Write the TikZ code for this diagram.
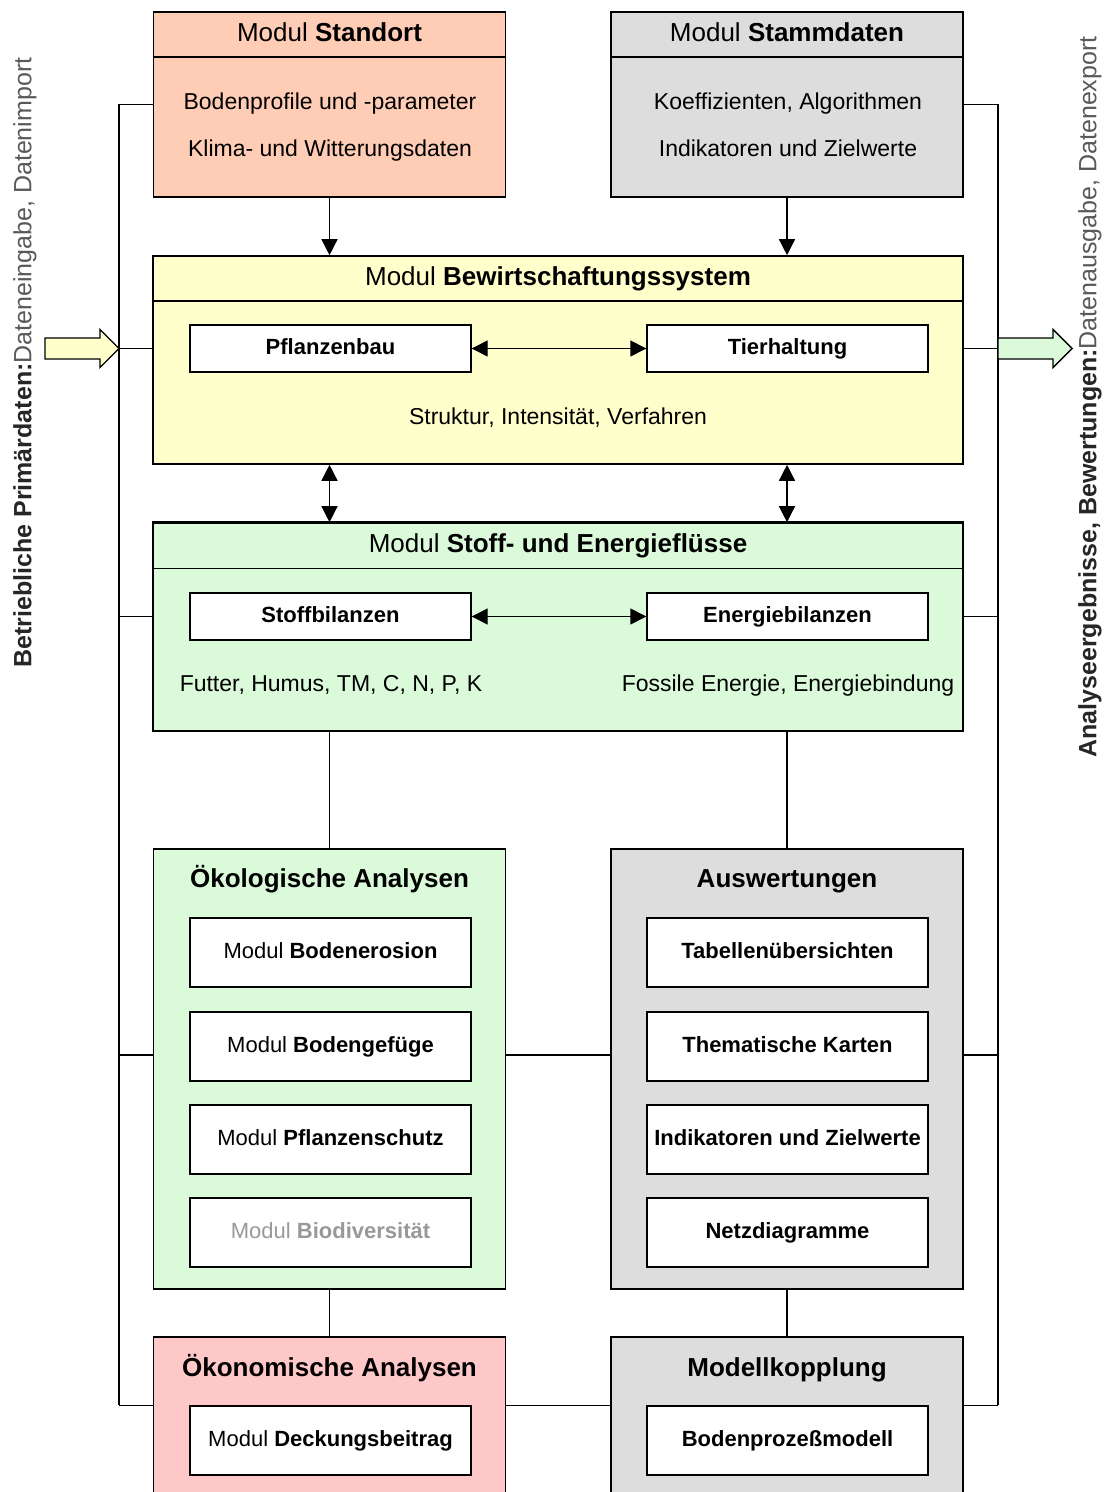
\documentclass[tikz,border=0pt]{standalone}
\usepackage{fontspec}
\setmainfont{Liberation Sans}
\usetikzlibrary{arrows.meta,calc,positioning}
\definecolor{lachs}{RGB}{255,204,181}
\definecolor{grau}{RGB}{221,221,221}
\definecolor{gelb}{RGB}{255,255,204}
\definecolor{gruen}{RGB}{218,250,218}
\definecolor{rosa}{RGB}{255,200,200}
\newcommand{\titel}{\fontsize{13}{15}\selectfont}
\newcommand{\txt}{\fontsize{11.5}{13}\selectfont}
\newcommand{\klein}{\fontsize{11}{13}\selectfont}

\begin{document}
\begin{tikzpicture}[x=0.5pt,y=-0.5pt,
  modul/.style={draw, line width=0.8pt, inner sep=0pt},
  kasten/.style={modul, minimum width=176pt, minimum height=92.5pt},
  breit/.style={modul, minimum width=405pt, minimum height=104pt},
  hoch/.style={modul, minimum width=176pt, minimum height=220pt},
  unten/.style={modul, minimum width=176pt, minimum height=83pt},
  kopf/.style={font=\titel, text height=9.5pt, text depth=2.8pt},
  zeile/.style={font=\txt, text height=8.5pt, text depth=2.5pt},
  teil/.style={draw, fill=white, line width=0.7pt, minimum width=140.5pt, minimum height=23.5pt, inner sep=0pt, font=\klein\bfseries, text height=8pt, text depth=2.4pt},
  block/.style={teil, minimum height=34.5pt},
  spitze/.tip={Triangle[length=8pt,width=8pt]},
  pfeil/.style={-spitze, line width=0.7pt},
  doppel/.style={spitze-spitze, line width=0.7pt},
  linie/.style={line width=0.7pt},
  seite/.style={rotate=90, anchor=west, inner sep=0pt, font=\fontsize{12.5}{14}\selectfont, text=black!85}
]
\useasboundingbox (0,0) rectangle (1109,1492);
\clip (0,0) rectangle (1109,1492);

% obere Module
\node[kasten, fill=lachs] (standort) at (329.5,104.5) {};
\node[kasten, fill=grau] (stamm) at (787,104.5) {};
\draw[linie] ($(standort.north west)+(0,46)$) -- ($(standort.north east)+(0,46)$);
\draw[linie] ($(stamm.north west)+(0,46)$) -- ($(stamm.north east)+(0,46)$);
\node[kopf] (standorttitel) at (329.5,35) {Modul \textbf{Standort}};
\node[kopf] (stammtitel) at (787,35) {Modul \textbf{Stammdaten}};
\node[zeile] (boden) at (330,104) {Bodenprofile und -parameter};
\node[zeile] (klima) at (330,151) {Klima- und Witterungsdaten};
\node[zeile] (koeff) at (788,104) {Koeffizienten, Algorithmen};
\node[zeile] (indik) at (788,151) {Indikatoren und Zielwerte};

% Bewirtschaftungssystem
\node[breit, fill=gelb] (bewirt) at (558,360) {};
\draw[linie] ($(bewirt.north west)+(0,46)$) -- ($(bewirt.north east)+(0,46)$);
\node[kopf] (bewirttitel) at (558,279) {Modul \textbf{Bewirtschaftungssystem}};
\node[teil] (pflanz) at (330.5,348.5) {Pflanzenbau};
\node[teil] (tier) at (787.5,348.5) {Tierhaltung};
\node[zeile] (struktur) at (558,418) {Struktur, Intensität, Verfahren};
\draw[doppel] (pflanz.east) -- (tier.west);

% Stoff- und Energieflüsse
\node[breit, fill=gruen] (stoff) at (558,627) {};
\draw[linie] ($(stoff.north west)+(0,46)$) -- ($(stoff.north east)+(0,46)$);
\draw[line width=1.4pt] (stoff.north west) -- (stoff.north east);
\node[kopf] (stofftitel) at (558,546) {Modul \textbf{Stoff- und Energieflüsse}};
\node[teil] (stoffbil) at (330.5,616.5) {Stoffbilanzen};
\node[teil] (energie) at (787.5,616.5) {Energiebilanzen};
\node[zeile] (futter) at (331,685) {Futter, Humus, TM, C, N, P, K};
\node[zeile] (fossil) at (788,685) {Fossile Energie, Energiebindung};
\draw[doppel] (stoffbil.east) -- (energie.west);

% Analysen
\node[hoch, fill=gruen] (oeko) at (329.5,1069) {};
\node[hoch, fill=grau] (ausw) at (787,1069) {};
\node[kopf, font=\titel\bfseries] (oekotitel) at (329.5,881) {Ökologische Analysen};
\node[kopf, font=\titel\bfseries] (auswtitel) at (787,881) {Auswertungen};
\node[block] (erosion) at (330.5,952.5) {\mdseries Modul \bfseries Bodenerosion};
\node[block] (gefuege) at (330.5,1046.5) {\mdseries Modul \bfseries Bodengefüge};
\node[block] (schutz) at (330.5,1139.5) {\mdseries Modul \bfseries Pflanzenschutz};
\node[block, text=black!40] (bio) at (330.5,1232.5) {\mdseries Modul \bfseries Biodiversität};
\node[block] (tabellen) at (787.5,952.5) {Tabellenübersichten};
\node[block] (karten) at (787.5,1046.5) {Thematische Karten};
\node[block] (ziel) at (787.5,1139.5) {Indikatoren und Zielwerte};
\node[block] (netz) at (787.5,1232.5) {Netzdiagramme};

% untere Module
\node[unten, fill=rosa] (oekon) at (329.5,1420) {};
\node[unten, fill=grau] (modell) at (787,1420) {};
\node[kopf, font=\titel\bfseries] (oekontitel) at (329.5,1370) {Ökonomische Analysen};
\node[kopf, font=\titel\bfseries] (modelltitel) at (787,1370) {Modellkopplung};
\node[block] (deck) at (330.5,1440.5) {\mdseries Modul \bfseries Deckungsbeitrag};
\node[block] (prozess) at (787.5,1440.5) {Bodenprozeßmodell};

% Verbindungen
\draw[pfeil] (standort.south) -- (standort.south |- bewirt.north);
\draw[pfeil] (stamm.south) -- (stamm.south |- bewirt.north);
\draw[doppel] (standort.south |- bewirt.south) -- (standort.south |- stoff.north);
\draw[doppel] (stamm.south |- bewirt.south) -- (stamm.south |- stoff.north);
\draw[linie] (oeko.north |- stoff.south) -- (oeko.north);
\draw[linie] (ausw.north |- stoff.south) -- (ausw.north);
\draw[linie] (oeko.south) -- (oekon.north);
\draw[linie] (ausw.south) -- (modell.north);
\coordinate (mitte) at (0,1055);
\draw[linie] (oeko.east |- mitte) -- (ausw.west |- mitte);
\draw[linie] (oekon.east |- deck.north) -- (modell.west |- deck.north);

% Sammelleitungen links und rechts
\coordinate (lbus) at (119,0);
\coordinate (rbus) at (998,0);
\draw[linie] (lbus |- standort.west) -- (lbus |- deck.north);
\draw[linie] (rbus |- stamm.east) -- (rbus |- deck.north);
\draw[linie] (standort.west) -- (lbus |- standort.west);
\draw[linie] (bewirt.west |- pflanz) -- (lbus |- pflanz);
\draw[linie] (stoff.west |- stoffbil) -- (lbus |- stoffbil);
\draw[linie] (oeko.west |- mitte) -- (lbus |- mitte);
\draw[linie] (oekon.west |- deck.north) -- (lbus |- deck.north);
\draw[linie] (stamm.east) -- (rbus |- stamm.east);
\draw[linie] (bewirt.east |- tier) -- (rbus |- tier);
\draw[linie] (stoff.east |- energie) -- (rbus |- energie);
\draw[linie] (ausw.east |- mitte) -- (rbus |- mitte);
\draw[linie] (modell.east |- prozess.north) -- (rbus |- prozess.north);

% Blockpfeile
\draw[linie, fill=gelb] (lbus |- pflanz) -- ++(-19,-19) -- ++(0,8.5) -- ++(-55,0) -- ++(0,21) -- ++(55,0) -- ++(0,8.5) -- cycle;
\draw[linie, fill=gruen] (rbus |- tier) ++(74,0) -- ++(-19,-19) -- ++(0,8.5) -- ++(-55,0) -- ++(0,21) -- ++(55,0) -- ++(0,8.5) -- cycle;

% seitliche Beschriftung
\node[seite] (eingabe) at (25,668) {\textbf{Betriebliche Primärdaten:}\textcolor{black!65}{Dateneingabe, Datenimport}};
\node[seite] (ausgabe) at (1090,758) {\textbf{Analyseergebnisse, Bewertungen:}\textcolor{black!65}{Datenausgabe, Datenexport}};
\end{tikzpicture}
\end{document}
